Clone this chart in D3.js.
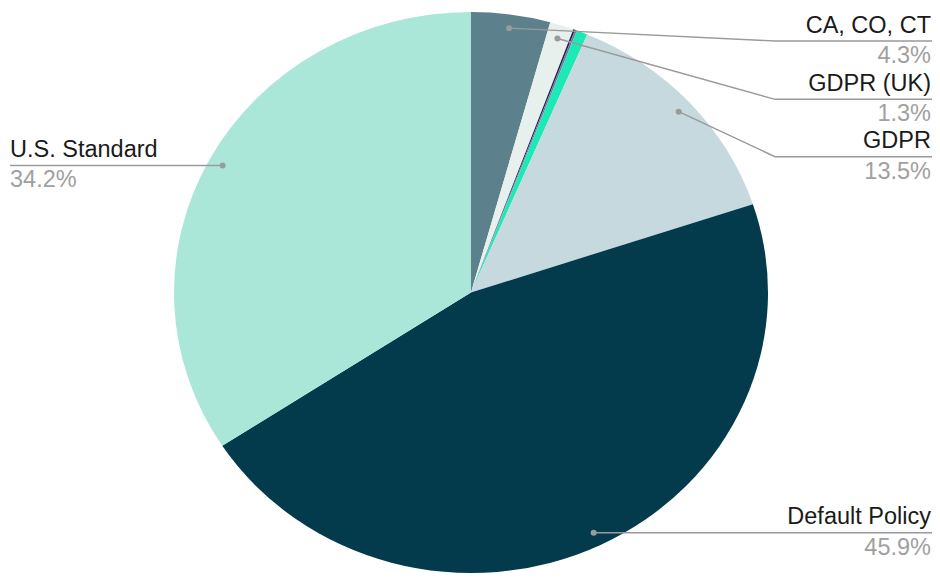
<!DOCTYPE html>
<html>
<head>
<meta charset="utf-8">
<script src="https://cdn.jsdelivr.net/npm/d3@7"></script>
<style>
  html, body { margin: 0; padding: 0; background: #fff; }
  svg { display: block; }
  text { font-family: "Liberation Sans", Arial, sans-serif; }
</style>
</head>
<body>
<svg id="chart" width="940" height="581"></svg>
<script>
// ---- Data ----
const categories = ["CA, CO, CT", "GDPR (UK)", "Other A", "Other B", "Other C", "GDPR", "Default Policy", "U.S. Standard"];
const values     = [4.3, 1.3, 0.1, 0.1, 0.6, 13.5, 45.9, 34.2];
const colors     = ["#5c808c", "#e8f0ee", "#1b2a4a", "#7a6da6", "#1de9b6", "#c6d9de", "#033a4c", "#abe7d9"];
const shownLabels = ["CA, CO, CT", "GDPR (UK)", "GDPR", "Default Policy", "U.S. Standard"];

// ---- Layout ----
const W = 940, H = 581;
const cx = 471, cy = 292.5, rx = 297, ry = 280.5;
const svg = d3.select("#chart");

const data = categories.map((c, i) => ({ name: c, value: values[i], color: colors[i] }));
const pie = d3.pie().value(d => d.value).sort(null);
const arcs = pie(data);

const arc = d3.arc().innerRadius(0).outerRadius(ry);
const pieG = svg.append("g").attr("transform", `translate(${cx},${cy}) scale(${rx / ry},1)`);
pieG.selectAll("path").data(arcs).enter().append("path")
  .attr("d", arc)
  .attr("fill", d => d.data.color);

function anchor(d) {
  const a = (d.startAngle + d.endAngle) / 2;
  return [cx + Math.sin(a) * rx * 0.951, cy - Math.cos(a) * ry * 0.951];
}

const labelSpecs = {
  "CA, CO, CT":     { side: "right", lineY: 41 },
  "GDPR (UK)":      { side: "right", lineY: 99.3 },
  "GDPR":           { side: "right", lineY: 156.7 },
  "Default Policy": { side: "right", lineY: null },
  "U.S. Standard":  { side: "left",  lineY: null }
};

const lineColor = "#9a9a9a";
const labG = svg.append("g");
arcs.filter(d => shownLabels.includes(d.data.name)).forEach(d => {
  const spec = labelSpecs[d.data.name];
  const [ax, ay] = anchor(d);
  const ly = spec.lineY == null ? ay : spec.lineY;
  let pts;
  if (spec.side === "right") {
    pts = spec.lineY == null ? [[ax, ay], [932, ly]] : [[ax, ay], [775, ly], [932, ly]];
  } else {
    pts = [[ax, ay], [10, ly]];
  }
  labG.append("path")
    .attr("d", d3.line()(pts))
    .attr("fill", "none")
    .attr("stroke", lineColor)
    .attr("stroke-width", 1.4);
  labG.append("circle").attr("cx", ax).attr("cy", ay).attr("r", 3).attr("fill", lineColor);

  const tx = spec.side === "right" ? 931 : 10;
  const anchorTxt = spec.side === "right" ? "end" : "start";
  labG.append("text")
    .attr("x", tx).attr("y", ly - 8.5)
    .attr("text-anchor", anchorTxt)
    .attr("font-size", 23.5)
    .attr("fill", "#1a1a1a")
    .text(d.data.name);
  labG.append("text")
    .attr("x", tx).attr("y", ly + 22)
    .attr("text-anchor", anchorTxt)
    .attr("font-size", 23.5)
    .attr("fill", "#a0a0a0")
    .text(d3.format(".1f")(d.data.value) + "%");
});
</script>
</body>
</html>
